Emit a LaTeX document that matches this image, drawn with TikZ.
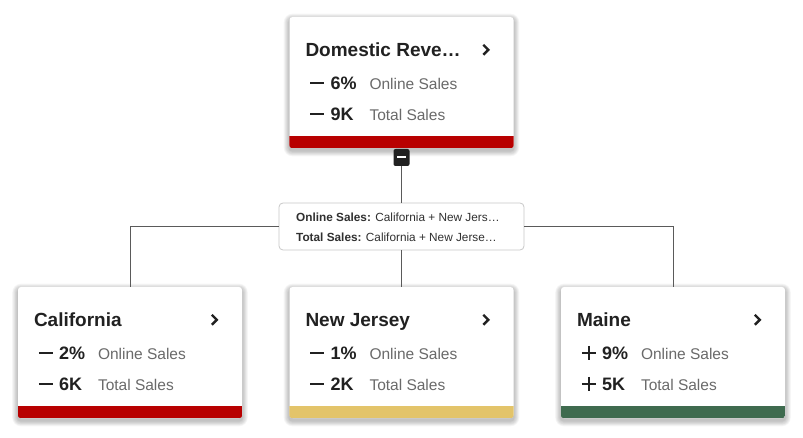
\documentclass[tikz,border=0pt]{standalone}
\usepackage{fontspec}
\setmainfont{Liberation Sans}
\pgfdeclarelayer{bg}
\pgfdeclarelayer{shade}
\pgfsetlayers{bg,shade,main}
\definecolor{barred}{HTML}{B80000}
\definecolor{baryellow}{HTML}{E3C46A}
\definecolor{bargreen}{HTML}{3F6B4F}
\definecolor{ink}{HTML}{212121}
\definecolor{muted}{HTML}{6A6A6A}
\definecolor{wirec}{HTML}{5A5A5A}
\definecolor{boxline}{HTML}{C8C8C8}
\definecolor{boxtext}{HTML}{303030}
\tikzset{
  card/.style={fill=white, rounded corners=3pt, minimum width=224pt, minimum height=131pt, inner sep=0pt},
  shadelayer/.style={fill=black, opacity=0.032},
  ttl/.style={anchor=base west, inner sep=0pt, font=\fontsize{19}{22}\selectfont\bfseries, text=ink},
  num/.style={anchor=base west, inner sep=0pt, font=\fontsize{18}{21}\selectfont\bfseries, text=ink},
  lab/.style={anchor=base west, inner sep=0pt, font=\fontsize{15.5}{18}\selectfont, text=muted},
  sgn/.style={draw=ink, line width=2pt},
  chev/.style={draw=ink, line width=2.4pt},
  wire/.style={draw=wirec, line width=0.9pt},
  lblbox/.style={draw=boxline, fill=white, line width=0.8pt, rounded corners=4pt, minimum width=245pt, minimum height=47pt, inner sep=0pt},
  lbltext/.style={anchor=base west, inner sep=0pt, font=\fontsize{11.8}{13}\selectfont, text=boxtext},
  btn/.style={fill=ink, rounded corners=2pt, minimum width=16pt, minimum height=17pt, inner sep=0pt},
}
\newcommand{\drawcard}[8]{%
  \node[card] (#1) at (#2,#3) {};
  \begin{pgfonlayer}{shade}
    \foreach \e in {0.7,1.4,2.1,2.8,3.5,4.2,4.9,5.6}{
      \pgfmathsetmacro\rr{3+\e}
      \fill[shadelayer, rounded corners=\rr pt]
        ([xshift=-\e pt, yshift=\e pt-2.5pt]#1.north west) rectangle
        ([xshift=\e pt, yshift=-\e pt-2.5pt]#1.south east);
    }
  \end{pgfonlayer}
  \begin{scope}
    \clip[rounded corners=3pt] (#1.south west) rectangle (#1.north east);
    \fill[#8] (#1.south west) rectangle ([yshift=12pt]#1.south east);
  \end{scope}
  \node[ttl] (#1-ttl) at ([xshift=16pt,yshift=-40pt]#1.north west) {#4};
  \draw[chev] ([xshift=194pt,yshift=-28pt]#1.north west) -- ++(5,5) -- ++(-5,5);
  \draw[sgn] ([xshift=21pt,yshift=-66pt]#1.north west) -- ++(14,0);
  \draw[sgn] ([xshift=21pt,yshift=-97pt]#1.north west) -- ++(14,0);
  \ifnum#5=1
    \draw[sgn] ([xshift=28pt,yshift=-59pt]#1.north west) -- ++(0,14);
    \draw[sgn] ([xshift=28pt,yshift=-90pt]#1.north west) -- ++(0,14);
  \fi
  \node[num] (#1-n1) at ([xshift=41pt,yshift=-73pt]#1.north west) {#6};
  \node[lab] (#1-l1) at ([xshift=80pt,yshift=-73pt]#1.north west) {Online Sales};
  \node[num] (#1-n2) at ([xshift=41pt,yshift=-104pt]#1.north west) {#7};
  \node[lab] (#1-l2) at ([xshift=80pt,yshift=-104pt]#1.north west) {Total Sales};
}
\begin{document}
\begin{tikzpicture}[x=1pt,y=-1pt]
  \begin{pgfonlayer}{bg}
    \fill[white] (0,0) rectangle (803,438);
  \end{pgfonlayer}
  \useasboundingbox (0,0) rectangle (803,438);
  \drawcard{top}{401.5}{82.5}{Domestic Reve…}{0}{6\%}{9K}{barred}
  \drawcard{ca}{130}{352.5}{California}{0}{2\%}{6K}{barred}
  \drawcard{nj}{401.5}{352.5}{New Jersey}{0}{1\%}{2K}{baryellow}
  \drawcard{me}{673}{352.5}{Maine}{1}{9\%}{5K}{bargreen}
  \node[btn] (btn) at (401.5,157.5) {};
  \draw[draw=white, line width=2pt] ([xshift=-4.5pt]btn.center) -- ([xshift=4.5pt]btn.center);
  \node[lblbox] (lbl) at (401.5,226.5) {};
  \node[lbltext] (lbl1) at (296,222) {\textbf{Online Sales:} California + New Jers…};
  \node[lbltext] (lbl2) at (296,242) {\textbf{Total Sales:} California + New Jerse…};
  \draw[wire] (btn.south) -- (lbl.north);
  \draw[wire] (lbl.south) -- (nj.north);
  \draw[wire] (lbl.west) -| (ca.north);
  \draw[wire] (lbl.east) -| (me.north);
\end{tikzpicture}
\end{document}
